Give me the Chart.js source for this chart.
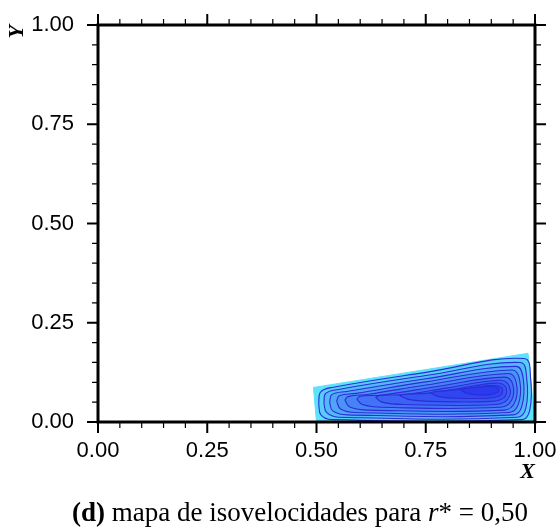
<!DOCTYPE html>
<html>
<head>
<meta charset="utf-8">
<script src="https://cdn.jsdelivr.net/npm/chart.js@4.4.1/dist/chart.umd.min.js"></script>
<style>
  html, body { margin: 0; padding: 0; background: #fff; overflow: hidden; }
  #wrap { position: relative; width: 559px; height: 529px; overflow: hidden; }
  #chart { display: block; }
  #caption {
    position: absolute; left: 0; width: 559px; top: 497px; padding-left: 41px; box-sizing: border-box;
    text-align: center; font-family: "Liberation Serif", "Times New Roman", serif;
    font-size: 27px; line-height: 30px; color: #000; white-space: nowrap;
  }
</style>
</head>
<body>
<div id="wrap">
  <canvas id="chart" width="559" height="529"></canvas>
  <div id="caption"><b>(d)</b> mapa de isovelocidades para <i>r</i>* = 0,50</div>
</div>
<script>
// domain of the duct section (cyan background)
const domainX = [0.5, 1.0, 0.984, 0.493, 0.5]
const domainY = [0.0, 0.0, 0.173, 0.087, 0.0]

// isovelocity contours, outer to inner
const contourX = [
    [0.505, 0.510, 0.535, 0.970, 0.988, 0.990, 0.975, 0.750, 0.535, 0.509, 0.505],
    [0.517, 0.523, 0.550, 0.960, 0.979, 0.981, 0.966, 0.750, 0.550, 0.521, 0.517],
    [0.530, 0.537, 0.570, 0.950, 0.970, 0.973, 0.957, 0.750, 0.570, 0.535, 0.530],
    [0.546, 0.555, 0.590, 0.940, 0.962, 0.965, 0.948, 0.750, 0.590, 0.552, 0.546],
    [0.565, 0.576, 0.620, 0.930, 0.954, 0.957, 0.939, 0.750, 0.620, 0.572, 0.565],
    [0.592, 0.605, 0.650, 0.920, 0.946, 0.949, 0.930, 0.780, 0.650, 0.600, 0.592],
    [0.635, 0.650, 0.700, 0.910, 0.938, 0.941, 0.920, 0.800, 0.700, 0.645, 0.635],
    [0.690, 0.710, 0.760, 0.900, 0.930, 0.933, 0.910, 0.820, 0.750, 0.700, 0.690],
    [0.760, 0.780, 0.820, 0.890, 0.921, 0.925, 0.905, 0.850, 0.800, 0.770, 0.760],
    [0.830, 0.845, 0.870, 0.895, 0.913, 0.917, 0.900, 0.870, 0.850, 0.835, 0.830],
]
const contourY = [
    [0.045, 0.018, 0.006, 0.006, 0.030, 0.110, 0.160, 0.125, 0.087, 0.075, 0.045],
    [0.047, 0.024, 0.012, 0.012, 0.035, 0.110, 0.150, 0.117, 0.082, 0.072, 0.047],
    [0.049, 0.028, 0.018, 0.018, 0.040, 0.110, 0.140, 0.109, 0.077, 0.069, 0.049],
    [0.052, 0.033, 0.024, 0.024, 0.045, 0.105, 0.131, 0.101, 0.072, 0.066, 0.052],
    [0.055, 0.038, 0.030, 0.030, 0.050, 0.100, 0.122, 0.093, 0.070, 0.064, 0.055],
    [0.058, 0.044, 0.037, 0.037, 0.054, 0.095, 0.113, 0.090, 0.068, 0.065, 0.058],
    [0.062, 0.050, 0.044, 0.044, 0.058, 0.090, 0.105, 0.086, 0.069, 0.067, 0.062],
    [0.067, 0.057, 0.052, 0.052, 0.062, 0.088, 0.098, 0.083, 0.072, 0.070, 0.067],
    [0.073, 0.064, 0.060, 0.060, 0.067, 0.085, 0.092, 0.085, 0.079, 0.076, 0.073],
    [0.080, 0.072, 0.068, 0.069, 0.074, 0.083, 0.090, 0.088, 0.085, 0.083, 0.080],
]
const bandColors = [
    "rgb(88,205,250)", "rgb(84,185,250)", "rgb(80,165,249)", "rgb(76,147,248)", "rgb(71,130,247)",
    "rgb(66,114,246)", "rgb(60,98,245)", "rgb(54,84,244)", "rgb(48,70,243)", "rgb(42,58,241)",
]

const xTicks = [0, 0.25, 0.5, 0.75, 1]
const yTicks = [0, 0.25, 0.5, 0.75, 1]

const toPoints = (xs, ys) => xs.map((x, i) => ({ x: x, y: ys[i] }))

const datasets = [{
    data: toPoints(domainX, domainY),
    showLine: true,
    fill: "shape",
    backgroundColor: "rgb(92,226,252)",
    borderColor: "rgb(92,226,252)",
    borderWidth: 1,
    pointRadius: 0,
    tension: 0,
    order: 100,
}]
contourX.forEach((xs, k) => {
    datasets.push({
        data: toPoints(xs, contourY[k]),
        showLine: true,
        fill: "shape",
        backgroundColor: bandColors[k],
        borderColor: "rgb(42,46,212)",
        borderWidth: 1.1,
        pointRadius: 0,
        tension: 0.4,
        order: 50 - k,
    })
})

// frame and ticks on all four sides (major 0.25, minor 0.05)
const framePlugin = {
    id: "frame",
    afterDraw(chart) {
        const { ctx, chartArea: a, scales } = chart
        ctx.save()
        ctx.strokeStyle = "#000"
        for (let i = 0; i <= 20; i++) {
            const major = i % 5 === 0
            const len = major ? 11 : 6
            ctx.lineWidth = major ? 2 : 1.2
            const px = scales.x.getPixelForValue(i / 20)
            const py = scales.y.getPixelForValue(i / 20)
            ctx.beginPath()
            ctx.moveTo(px, a.bottom); ctx.lineTo(px, a.bottom + len)
            ctx.moveTo(px, a.top); ctx.lineTo(px, a.top - len)
            ctx.moveTo(a.left, py); ctx.lineTo(a.left - len, py)
            ctx.moveTo(a.right, py); ctx.lineTo(a.right + len, py)
            ctx.stroke()
        }
        ctx.lineWidth = 3
        ctx.strokeRect(a.left, a.top, a.right - a.left, a.bottom - a.top)
        ctx.restore()
    }
}

const tickFont = { family: "'Liberation Sans', Arial, sans-serif", size: 22 }
const titleFont = { family: "'Liberation Serif', 'Times New Roman', serif", size: 22, weight: "bold", style: "italic" }

new Chart(document.getElementById("chart"), {
    type: "scatter",
    data: { datasets: datasets },
    options: {
        responsive: false,
        animation: false,
        layout: { padding: { top: 25, right: 24, bottom: 43, left: 0 } },
        plugins: { legend: { display: false }, tooltip: { enabled: false } },
        scales: {
            x: {
                min: 0, max: 1,
                afterBuildTicks: s => { s.ticks = xTicks.map(v => ({ value: v })) },
                afterFit: s => { s.height = 64; s.paddingLeft = 0; s.paddingRight = 0 },
                ticks: { font: tickFont, color: "#000", padding: 8, callback: v => v.toFixed(2), maxRotation: 0 },
                grid: { display: false },
                border: { display: false },
                title: { display: true, text: "X", align: "end", font: titleFont, color: "#000", padding: { top: 0, bottom: 0 } },
            },
            y: {
                min: 0, max: 1,
                afterBuildTicks: s => { s.ticks = yTicks.map(v => ({ value: v })) },
                afterFit: s => { s.width = 98; s.paddingTop = 0; s.paddingBottom = 0 },
                ticks: { font: tickFont, color: "#000", padding: 16, callback: v => v.toFixed(2) },
                grid: { display: false },
                border: { display: false },
                title: { display: true, text: "Y", align: "end", font: titleFont, color: "#000", padding: { top: 4, bottom: 0 } },
            },
        },
    },
    plugins: [framePlugin],
})
</script>
</body>
</html>
